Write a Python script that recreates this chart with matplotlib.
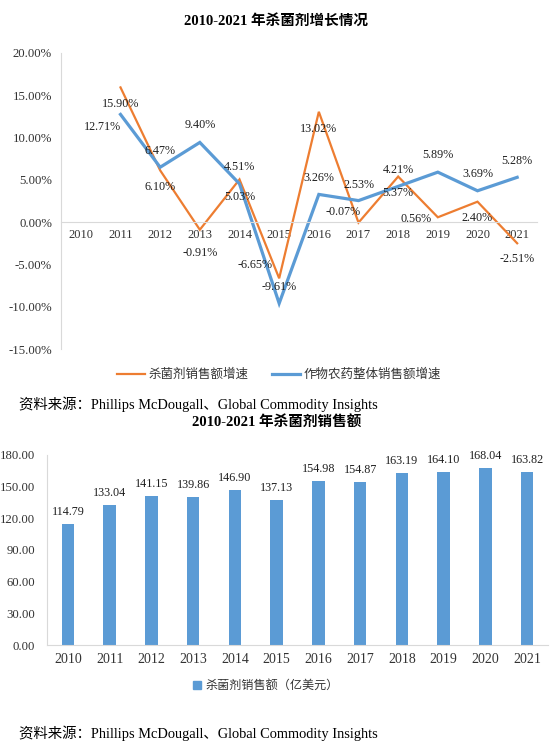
import numpy as np
import matplotlib
matplotlib.use("Agg")
import matplotlib.pyplot as plt
from matplotlib.lines import Line2D
from matplotlib.patches import Patch
from matplotlib.ticker import FuncFormatter, MultipleLocator

plt.rcParams['font.family'] = ['Liberation Serif', 'Noto Sans CJK SC']

# ---------------- data ----------------
years = ['2010', '2011', '2012', '2013', '2014', '2015', '2016', '2017', '2018', '2019', '2020', '2021']
fungicide_growth = [np.nan, 15.90, 6.10, -0.91, 5.03, -6.65, 13.02, -0.07, 5.37, 0.56, 2.40, -2.51]
pesticide_growth = [np.nan, 12.71, 6.47, 9.40, 4.51, -9.61, 3.26, 2.53, 4.21, 5.89, 3.69, 5.28]
fungicide_sales = [114.79, 133.04, 141.15, 139.86, 146.90, 137.13, 154.98, 154.87, 163.19, 164.10, 168.04, 163.82]

title_top = '2010-2021 年杀菌剂增长情况'
title_bottom = '2010-2021 年杀菌剂销售额'
legend_orange = '杀菌剂销售额增速'
legend_blue = '作物农药整体销售额增速'
legend_bar = '杀菌剂销售额（亿美元）'
source_text = '资料来源：Phillips McDougall、Global Commodity Insights'

# label offsets (pixels)
orange_off = [(0, 0), (0, -17), (0, -17), (0, -23), (0, -18), (-24, 13), (0, -17),
              (-15, 11), (0, -16), (-22, -2), (0, -16), (0, -16)]
blue_off = [(0, 0), (-18, -13), (0, 16), (0, 17), (0, 17), (0, 16), (0, 16),
            (0, 16), (0, 16), (0, 17), (0, 17), (0, 16)]

ORANGE = '#ED7D31'
BLUE = '#5B9BD5'
TXT = '#1F1F1F'
TICK = '#333333'
AXC = '#D9D9D9'

W, H = 554, 749
fig = plt.figure(figsize=(W / 100, H / 100), dpi=100)
fig.patch.set_facecolor('white')

def fx(px):
    return px / W

def fy(py):
    return 1 - py / H

# ---------------- top chart ----------------
ax1 = fig.add_axes([fx(61), fy(349), fx(537) - fx(61), fy(52.7) - fy(349)])
x = np.arange(len(years))
ax1.plot(x, fungicide_growth, color=ORANGE, lw=1.6, solid_joinstyle='miter')
ax1.plot(x, pesticide_growth, color=BLUE, lw=2.3, solid_joinstyle='miter')
ax1.set_xlim(-0.5, len(years) - 0.5)
ax1.set_ylim(-15, 20)
ax1.yaxis.set_major_locator(MultipleLocator(5))
ax1.yaxis.set_major_formatter(FuncFormatter(lambda v, p: f'{v:.2f}%'))
ax1.set_xticks(x)
ax1.set_xticklabels(years)
for s in ['top', 'right']:
    ax1.spines[s].set_visible(False)
ax1.spines['bottom'].set_position(('data', 0))
ax1.spines['bottom'].set_color(AXC)
ax1.spines['left'].set_color(AXC)
ax1.tick_params(axis='x', length=0, pad=5, labelsize=9, labelcolor=TICK)
ax1.tick_params(axis='y', length=0, pad=6.5, labelsize=9.2, labelcolor=TICK)

for i in range(len(years)):
    v = fungicide_growth[i]
    if not np.isnan(v):
        ax1.annotate(f'{v:.2f}%', (x[i], v), xytext=orange_off[i], textcoords='offset pixels',
                     ha='center', va='center', fontsize=8.7, color=TXT)
    v = pesticide_growth[i]
    if not np.isnan(v):
        ax1.annotate(f'{v:.2f}%', (x[i], v), xytext=blue_off[i], textcoords='offset pixels',
                     ha='center', va='center', fontsize=8.7, color=TXT)

handles = [Line2D([], [], color=ORANGE, lw=1.6), Line2D([], [], color=BLUE, lw=2.3)]
fig.legend(handles, [legend_orange, legend_blue], loc='center', bbox_to_anchor=(fx(279), fy(375)),
           ncol=2, frameon=False, fontsize=9, handlelength=2.2, handletextpad=0.3,
           columnspacing=1.9, labelcolor=TICK)

fig.text(fx(276), fy(21), title_top, ha='center', va='center', fontsize=10.5, fontweight='bold', color='black')
fig.text(fx(19), fy(404), source_text, ha='left', va='center', fontsize=10.4, color='black')

# ---------------- bottom chart ----------------
fig.text(fx(277), fy(422), title_bottom, ha='center', va='center', fontsize=10.5, fontweight='bold', color='black')

ax2 = fig.add_axes([fx(47), fy(645), fx(548) - fx(47), fy(455) - fy(645)])
ax2.bar(x, fungicide_sales, width=0.3, color=BLUE)
ax2.set_xlim(-0.5, len(years) - 0.5)
ax2.set_ylim(0, 180)
ax2.yaxis.set_major_locator(MultipleLocator(30))
ax2.yaxis.set_major_formatter(FuncFormatter(lambda v, p: f'{v:.2f}'))
ax2.set_xticks(x)
ax2.set_xticklabels(years)
for s in ['top', 'right']:
    ax2.spines[s].set_visible(False)
ax2.spines['bottom'].set_color(AXC)
ax2.spines['left'].set_color(AXC)
ax2.tick_params(axis='x', length=0, pad=6, labelsize=10, labelcolor=TICK)
ax2.tick_params(axis='y', length=0, pad=8.5, labelsize=9.2, labelcolor=TICK)
for i, v in enumerate(fungicide_sales):
    ax2.annotate(f'{v:.2f}', (x[i], v), xytext=(0, 12), textcoords='offset pixels',
                 ha='center', va='center', fontsize=8.7, color=TXT)

fig.legend([Patch(color=BLUE)], [legend_bar], loc='center', bbox_to_anchor=(fx(266), fy(686)),
           frameon=False, fontsize=8.7, handlelength=0.6, handleheight=0.6, handletextpad=0.4,
           labelcolor=TICK)

fig.text(fx(19), fy(733), source_text, ha='left', va='center', fontsize=10.4, color='black')

fig.savefig('out.png', dpi=100, facecolor='white')
